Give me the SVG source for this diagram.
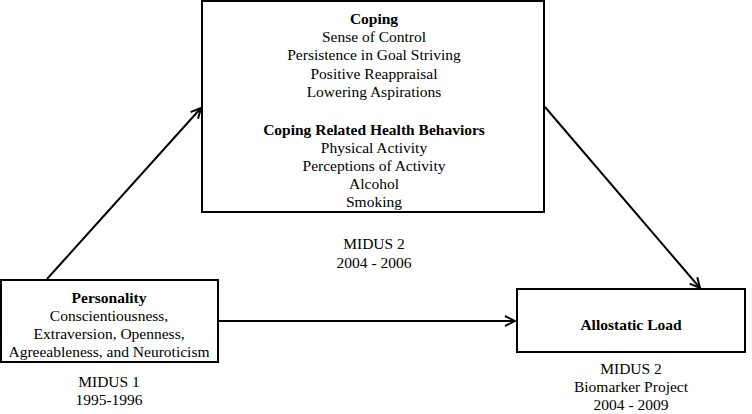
<svg xmlns="http://www.w3.org/2000/svg" width="752" height="414" viewBox="0 0 752 414">
<style>
text{font-family:"Liberation Serif","Times New Roman",serif;font-size:15.5px;fill:#000;text-anchor:middle}
.b{font-weight:bold}
.box{fill:#fff;stroke:#000;stroke-width:2}
.edge{stroke:#000;stroke-width:2;fill:none;marker-end:url(#arr)}
</style>
<defs>
<marker id="arr" viewBox="0 0 12 12" refX="11" refY="6" markerWidth="12" markerHeight="12" markerUnits="userSpaceOnUse" orient="auto">
<path d="M1,1 L11,6 L1,11" fill="none" stroke="#000" stroke-width="2"/>
</marker>
</defs>
<rect width="752" height="414" fill="#fff"/>
<g id="connectors">
<line class="edge" x1="47" y1="279" x2="201" y2="108"/>
<line class="edge" x1="545" y1="107" x2="700" y2="288"/>
<line class="edge" x1="218" y1="321" x2="515" y2="321"/>
</g>
<g id="coping">
<rect class="box" x="202" y="1" width="342" height="211"/>
<text x="374" y="24" class="b">Coping</text>
<text x="374" y="42">Sense of Control</text>
<text x="374" y="60">Persistence in Goal Striving</text>
<text x="374" y="79">Positive Reappraisal</text>
<text x="374" y="97">Lowering Aspirations</text>
<text x="374" y="135" class="b">Coping Related Health Behaviors</text>
<text x="374" y="153">Physical Activity</text>
<text x="374" y="171">Perceptions of Activity</text>
<text x="374" y="189">Alcohol</text>
<text x="374" y="207">Smoking</text>
<text x="374" y="249">MIDUS 2</text>
<text x="374" y="268">2004 - 2006</text>
</g>
<g id="personality">
<rect class="box" x="1" y="280" width="217" height="82"/>
<text x="109" y="303" class="b">Personality</text>
<text x="109" y="321">Conscientiousness,</text>
<text x="109" y="339">Extraversion, Openness,</text>
<text x="109" y="357">Agreeableness, and Neuroticism</text>
<text x="109" y="387">MIDUS 1</text>
<text x="109" y="405">1995-1996</text>
</g>
<g id="allostatic">
<rect class="box" x="517" y="289" width="228" height="63"/>
<text x="631" y="330" class="b">Allostatic Load</text>
<text x="631" y="374">MIDUS 2</text>
<text x="631" y="392">Biomarker Project</text>
<text x="631" y="410">2004 - 2009</text>
</g>
</svg>
